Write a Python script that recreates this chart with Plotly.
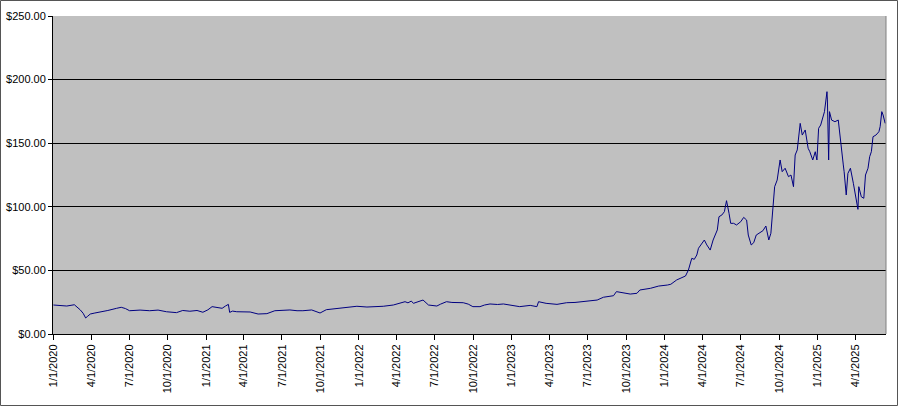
import plotly.graph_objects as go

dates = [
    "2020-01-02", "2020-01-17", "2020-02-03", "2020-02-21", "2020-03-02", "2020-03-06",
    "2020-03-13", "2020-03-19", "2020-03-24", "2020-03-30", "2020-04-10", "2020-04-22",
    "2020-05-11", "2020-06-01", "2020-06-12", "2020-06-22", "2020-07-02", "2020-07-27",
    "2020-08-19", "2020-09-08", "2020-09-28", "2020-10-22", "2020-11-06", "2020-11-23",
    "2020-12-10", "2020-12-24",
    "2021-01-05", "2021-01-15", "2021-01-29", "2021-02-08", "2021-02-16", "2021-02-23",
    "2021-02-26", "2021-03-05", "2021-03-15", "2021-03-30", "2021-04-16", "2021-05-05",
    "2021-05-26", "2021-06-14", "2021-07-06", "2021-07-20", "2021-08-06", "2021-08-20",
    "2021-09-10", "2021-09-20", "2021-09-30", "2021-10-15", "2021-11-05", "2021-11-24",
    "2021-12-10", "2021-12-27",
    "2022-01-20", "2022-02-08", "2022-02-28", "2022-03-24", "2022-04-08", "2022-04-21",
    "2022-04-28", "2022-05-06", "2022-05-11", "2022-05-23", "2022-06-03", "2022-06-16",
    "2022-07-06", "2022-07-15", "2022-07-29", "2022-08-11", "2022-08-26", "2022-09-07",
    "2022-09-19", "2022-09-30", "2022-10-17", "2022-10-28", "2022-11-10", "2022-11-28",
    "2022-12-12",
    "2023-01-05", "2023-01-20", "2023-02-14", "2023-03-02", "2023-03-06", "2023-03-24",
    "2023-04-19", "2023-05-12", "2023-06-01", "2023-06-21", "2023-07-07", "2023-07-24",
    "2023-08-08", "2023-08-18", "2023-09-01", "2023-09-08", "2023-09-25", "2023-10-11",
    "2023-10-27", "2023-11-03", "2023-11-28", "2023-12-18",
    "2024-01-08", "2024-01-16", "2024-01-30", "2024-02-12", "2024-02-20", "2024-02-27",
    "2024-03-06", "2024-03-12", "2024-03-18", "2024-03-22", "2024-03-28", "2024-04-05",
    "2024-04-11", "2024-04-19", "2024-04-26", "2024-05-06", "2024-05-10", "2024-05-17",
    "2024-05-23", "2024-05-28", "2024-06-03", "2024-06-07", "2024-06-14", "2024-06-21",
    "2024-07-01", "2024-07-08", "2024-07-15", "2024-07-19", "2024-07-26", "2024-08-01",
    "2024-08-07", "2024-08-15", "2024-08-23", "2024-08-30", "2024-09-06", "2024-09-11",
    "2024-09-17", "2024-09-20", "2024-09-26", "2024-10-03", "2024-10-08", "2024-10-15",
    "2024-10-23", "2024-10-29", "2024-11-04", "2024-11-08", "2024-11-13", "2024-11-20",
    "2024-11-25", "2024-12-02", "2024-12-09", "2024-12-13", "2024-12-20", "2024-12-26",
    "2024-12-30",
    "2025-01-03", "2025-01-08", "2025-01-15", "2025-01-17", "2025-01-23", "2025-01-24",
    "2025-01-27", "2025-01-29", "2025-02-03", "2025-02-11", "2025-02-19", "2025-02-24",
    "2025-03-03", "2025-03-05", "2025-03-10", "2025-03-14", "2025-03-20", "2025-03-27",
    "2025-04-01", "2025-04-07", "2025-04-09", "2025-04-15", "2025-04-21", "2025-04-25",
    "2025-05-01", "2025-05-05", "2025-05-09", "2025-05-13", "2025-05-20", "2025-05-27",
    "2025-05-30", "2025-06-03", "2025-06-06", "2025-06-11",
]

prices = [
    22.8, 22.5, 22.0, 23.0, 20.2, 19.0,
    16.3, 12.6, 14.0, 15.7, 16.5, 17.5,
    18.5, 20.2, 21.0, 20.0, 18.3, 18.8,
    18.3, 18.8, 17.5, 16.8, 18.5, 17.9,
    18.5, 17.1,
    19.0, 21.5, 21.0, 20.2, 22.0, 23.3,
    17.0, 18.0, 17.5, 17.5, 17.3, 15.7,
    16.0, 18.3, 18.5, 18.9, 18.3, 18.3,
    18.9, 17.8, 16.5, 19.1, 19.8, 20.2,
    21.0, 21.8,
    21.2, 21.5, 21.8, 22.8, 24.0, 25.4,
    24.5, 25.9, 24.1, 25.5, 26.7, 22.8,
    22.0, 23.5, 25.4, 24.8, 24.6, 24.6,
    23.5, 21.5, 21.5, 22.8, 23.6, 23.2,
    23.6,
    22.3, 21.5, 22.5, 21.5, 25.4, 24.1,
    23.3, 24.6, 24.8, 25.7, 26.0, 26.7,
    28.9, 29.2, 30.1, 33.3, 32.5, 31.4,
    32.0, 34.6, 35.9, 37.7,
    38.5, 39.1, 42.5, 44.6, 45.6, 50.3,
    59.5, 58.7, 62.1, 67.4, 70.0, 73.9,
    70.0, 66.0, 73.9, 81.8, 92.2, 93.6,
    96.2, 104.8, 94.9, 87.0, 87.0, 85.7,
    88.3, 91.7, 89.6, 77.8, 70.0, 71.8,
    77.8, 79.2, 81.2, 84.9, 73.9, 79.2,
    100.1, 115.8, 121.0, 136.8, 127.6, 130.3,
    123.7, 125.0, 115.8, 140.7, 144.7, 165.6,
    156.4, 160.4, 146.0, 143.3, 136.8, 143.3,
    136.8,
    161.7, 164.3, 172.2, 174.8, 190.5, 184.0,
    136.8, 174.8, 168.2, 166.9, 168.2, 151.2,
    132.9, 127.6, 109.3, 126.3, 130.3, 118.5,
    107.9, 98.0, 115.8, 107.9, 106.7, 125.0,
    130.3, 139.4, 143.3, 155.1, 156.4, 159.0,
    163.0, 174.8, 172.2, 165.6,
]

axis_start = "2020-01-01"
axis_end = "2025-06-13"
y_max = 250
y_step = 50

FONT = "Liberation Sans, Arial, sans-serif"

fig = go.Figure()
fig.add_trace(go.Scatter(
    x=dates, y=prices, mode="lines",
    line=dict(color="#000080", width=1),
    hoverinfo="skip", showlegend=False,
))

fig.update_layout(
    width=900, height=408,
    margin=dict(l=53, r=14, t=16, b=74, autoexpand=False),
    paper_bgcolor="white",
    plot_bgcolor="#C0C0C0",
    font=dict(family=FONT, size=11, color="black"),
    showlegend=False,
)

fig.update_xaxes(
    type="date",
    range=[axis_start, axis_end],
    tick0=axis_start, dtick="M3",
    tickformat="%-m/%-d/%Y",
    tickangle=-90,
    automargin=False,
    ticks="outside", ticklen=5, tickcolor="black", tickwidth=1,
    showgrid=False, zeroline=False,
    showline=True, linecolor="black", linewidth=1,
    tickfont=dict(family=FONT, size=11, color="black"),
)

fig.update_yaxes(
    range=[0, y_max],
    tick0=0, dtick=y_step,
    tickformat="$,.2f",
    automargin=False,
    ticks="outside", ticklen=4, tickcolor="black", tickwidth=1,
    showgrid=True, gridcolor="black", gridwidth=1,
    zeroline=False,
    showline=True, linecolor="black", linewidth=1,
    tickfont=dict(family=FONT, size=11, color="black"),
)

# plot-area right border (gray)
fig.add_shape(type="line", xref="paper", yref="paper", x0=1, x1=1, y0=0, y1=1,
              line=dict(color="#808080", width=1), layer="above")

# outer chart border drawn as four lines in paper units
pw, ph = 833.0, 318.0
bx0, bx1 = -52.5 / pw, 1 + 11.5 / pw
by0, by1 = -71.5 / ph, 1 + 15.5 / ph
for (ax0, ay0, ax1, ay1) in [(bx0, by0, bx1, by0), (bx0, by1, bx1, by1),
                             (bx0, by0, bx0, by1), (bx1, by0, bx1, by1)]:
    fig.add_shape(type="line", xref="paper", yref="paper",
                  x0=ax0, y0=ay0, x1=ax1, y1=ay1,
                  line=dict(color="#555555", width=1), layer="above")

fig.write_html(
    "out.html",
    config={"displayModeBar": False, "staticPlot": True},
    post_script="document.documentElement.style.margin='0';"
                "document.body.style.margin='0';document.body.style.padding='0';",
)
